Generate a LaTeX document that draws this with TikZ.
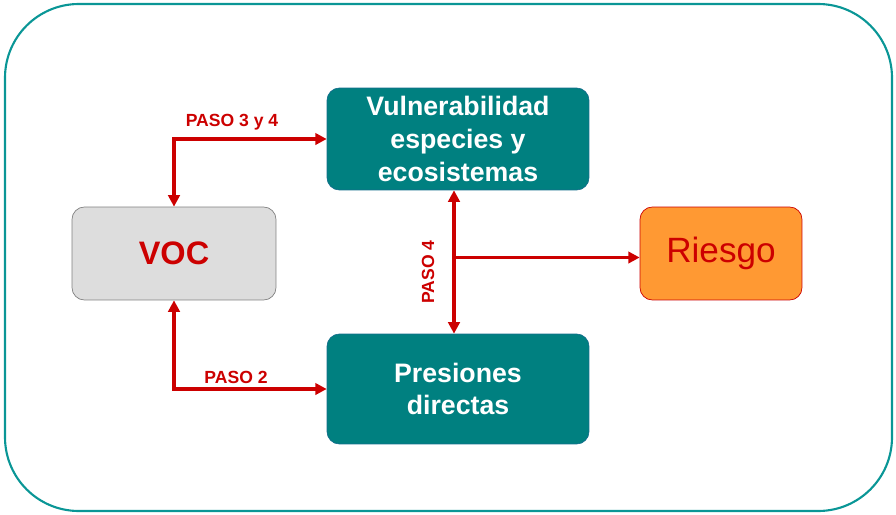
\documentclass[tikz,border=0pt]{standalone}
\usepackage{fontspec}
\setmainfont{Liberation Sans}
\usetikzlibrary{positioning,arrows.meta}

\definecolor{tealbox}{RGB}{0,128,128}
\definecolor{tealedge}{RGB}{20,110,140}
\definecolor{frame}{RGB}{10,150,150}
\definecolor{pasored}{RGB}{204,0,0}
\definecolor{vocgray}{RGB}{221,221,221}
\definecolor{riesgo}{RGB}{255,153,51}

\tikzset{
  tealnode/.style={rectangle, rounded corners=7pt, draw=tealedge, fill=tealbox,
    text=white, font=\bfseries\fontsize{15.2}{18.7}\selectfont, align=center,
    minimum width=5.24cm, inner sep=0pt},
  paso/.style={text=pasored, font=\bfseries\fontsize{10}{12}\selectfont},
  flecha/.style={draw=pasored, line width=2.1pt,
    arrows={Triangle[length=6.5pt,width=6.5pt]-Triangle[length=6.5pt,width=6.5pt]}},
  haciauno/.style={draw=pasored, line width=2.1pt, -{Triangle[length=6.5pt,width=6.5pt]}}
}

\begin{document}
\begin{tikzpicture}[x=0.02cm,y=-0.02cm]
\useasboundingbox (0,0) rectangle (896,514);
\draw[frame, line width=1.2pt, rounded corners=42pt] (5,4) rectangle (892,511);

\node[tealnode, minimum height=2.04cm] (vul) at (458,139)
  {Vulnerabilidad\\especies y\\ecosistemas};
\node[tealnode, minimum height=2.2cm] (pre) at (458,389)
  {Presiones\\directas};
\node[rectangle, rounded corners=7pt, draw=gray, fill=vocgray, text=pasored,
  font=\bfseries\fontsize{18.5}{22}\selectfont,
  minimum width=4.08cm, minimum height=1.86cm] (voc) at (174,253.5) {VOC};
\node[rectangle, rounded corners=7pt, draw=pasored, fill=riesgo, text=pasored,
  font=\fontsize{20}{24}\selectfont,
  minimum width=3.24cm, minimum height=1.86cm] (ries) at (721,253.5) {Riesgo};

% conectores
\draw[flecha] (voc.north) |- (vul.west);
\draw[flecha] (voc.south) |- (pre.west);
\draw[flecha] ([xshift=-4*0.02cm]vul.south) -- ([xshift=-4*0.02cm]pre.north);
\draw[haciauno] ([xshift=-4*0.02cm,yshift=-4*0.02cm]vul.south |- ries.west)
  -- ([yshift=-4*0.02cm]ries.west);

\node[paso] (p34) at (232,122) {PASO 3 y 4};
\node[paso] (p2) at (236,377) {PASO 2};
\node[paso, rotate=90] (p4) at (428,272) {PASO 4};
\end{tikzpicture}
\end{document}
